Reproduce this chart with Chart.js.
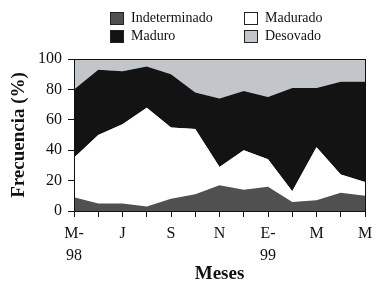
<!DOCTYPE html>
<html>
<head>
<meta charset="utf-8">
<script src="https://cdn.jsdelivr.net/npm/chart.js@4"></script>
<style>
  body { margin: 0; background: #fff; }
  #wrap { position: relative; width: 382px; height: 290px; }
  .leyenda { position: absolute; display: flex; align-items: center; font-family: "Liberation Serif", serif; font-size: 14px; color: #111; }
  .caja { width: 12px; height: 11px; border: 1px solid #222; margin-right: 7px; }
</style>
</head>
<body>
<div id="wrap">
  <canvas id="grafico" width="382" height="290"></canvas>
  <div class="leyenda" style="left:110px; top:10px;"><span class="caja" style="background:#505050"></span>Indeterminado</div>
  <div class="leyenda" style="left:244px; top:10px;"><span class="caja" style="background:#fff"></span>Madurado</div>
  <div class="leyenda" style="left:110px; top:28px;"><span class="caja" style="background:#131313"></span>Maduro</div>
  <div class="leyenda" style="left:244px; top:28px;"><span class="caja" style="background:#c2c5c9"></span>Desovado</div>
</div>
<script>
// === Datos (%) de mayo 98 a mayo 99 ===
const meses = [['M-', '98'], '', 'J', '', 'S', '', 'N', '', ['E-', '99'], '', 'M', '', 'M'];
const indeterminado = [9, 5, 5, 3, 8, 11, 17, 14, 16, 6, 7, 12, 10];
const madurado      = [26, 45, 52, 65, 47, 43, 12, 26, 18, 7, 35, 12, 9];
const maduro        = [45, 43, 35, 27, 35, 24, 45, 39, 41, 68, 39, 61, 66];
const desovado      = [20, 7, 8, 5, 10, 22, 26, 21, 25, 19, 19, 15, 15];

const fuente = '"Liberation Serif", serif';

function capa(label, data, color, fill) {
  return {
    label: label,
    data: data,
    backgroundColor: color,
    borderColor: color,
    borderWidth: 0,
    pointRadius: 0,
    tension: 0,
    fill: fill
  };
}

// marco superior y derecho del área
const marco = {
  id: 'marco',
  afterDraw(chart) {
    const a = chart.chartArea;
    const ctx = chart.ctx;
    ctx.save();
    ctx.strokeStyle = '#111';
    ctx.lineWidth = 1;
    ctx.strokeRect(a.left + 0.5, a.top + 0.5, a.right - a.left, a.bottom - a.top);
    ctx.restore();
  }
};

new Chart(document.getElementById('grafico'), {
  type: 'line',
  data: {
    labels: meses,
    datasets: [
      capa('Indeterminado', indeterminado, '#505050', 'origin'),
      capa('Madurado', madurado, '#ffffff', '-1'),
      capa('Maduro', maduro, '#131313', '-1'),
      capa('Desovado', desovado, '#c2c5c9', '-1')
    ]
  },
  options: {
    responsive: false,
    animation: false,
    layout: { padding: { top: 59, right: 17, left: 0, bottom: 0 } },
    plugins: {
      legend: { display: false },
      tooltip: { enabled: false }
    },
    scales: {
      x: {
        offset: false,
        afterFit: s => { s.height = 79; },
        grid: { drawOnChartArea: false, color: '#111', tickLength: 6 },
        border: { color: '#111', width: 1 },
        ticks: {
          autoSkip: false, maxRotation: 0, padding: 6, color: '#111',
          font: { family: fuente, size: 16, lineHeight: 1.35 }
        },
        title: {
          display: true, text: 'Meses', color: '#111',
          font: { family: fuente, size: 19, weight: 'bold' },
          padding: { top: 0, bottom: 5 }
        }
      },
      y: {
        stacked: true,
        min: 0,
        max: 100,
        afterFit: s => { s.width = 74; },
        grid: { drawOnChartArea: false, color: '#111', tickLength: 6 },
        border: { color: '#111', width: 1 },
        ticks: {
          stepSize: 20, padding: 6, color: '#111',
          font: { family: fuente, size: 16 }
        },
        title: {
          display: true, text: 'Frecuencia (%)', color: '#111',
          font: { family: fuente, size: 19, weight: 'bold' },
          padding: { top: 8, bottom: 0 }
        }
      }
    }
  },
  plugins: [marco]
});
</script>
</body>
</html>
